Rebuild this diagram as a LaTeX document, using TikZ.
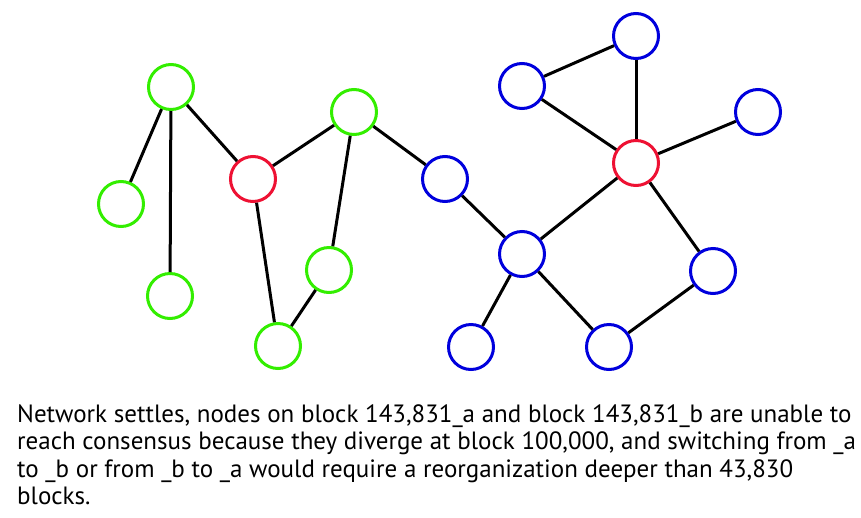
\documentclass[tikz,border=0pt]{standalone}
\usepackage{fontspec}
\setmainfont{PT Sans}
\usetikzlibrary{calc}

\definecolor{nodegreen}{RGB}{51,238,0}
\definecolor{nodered}{RGB}{238,17,51}
\definecolor{nodeblue}{RGB}{0,0,221}

\begin{document}
\begin{tikzpicture}[
    x=1pt, y=-1pt,
    roundnode/.style={circle, line width=3pt, minimum size=45pt, inner sep=0pt, fill=white},
    greennode/.style={roundnode, draw=nodegreen},
    rednode/.style={roundnode, draw=nodered},
    bluenode/.style={roundnode, draw=nodeblue},
]
    \useasboundingbox (0, 0) rectangle (861, 517);

    % green nodes (branch _a)
    \foreach \i/\x/\y in {1/171/87, 2/121/204, 3/170/296, 4/354/112, 5/329/270, 6/278/346}
    {
        \node at (\x, \y) [greennode](Gcircle_\i){};
    }

    % red nodes
    \foreach \i/\x/\y in {1/253/179, 2/636/163}
    {
        \node at (\x, \y) [rednode](Rcircle_\i){};
    }

    % blue nodes (branch _b)
    \foreach \i/\x/\y in {1/636/36, 2/522/86, 3/758/112, 4/445/179, 5/522/254, 6/713/271, 7/471/347, 8/609/347}
    {
        \node at (\x, \y) [bluenode](Bcircle_\i){};
    }

    % connect the nodes
    \foreach \start/\end in {
    Gcircle_1/Gcircle_2,
    Gcircle_1/Gcircle_3,
    Gcircle_1/Rcircle_1,
    Rcircle_1/Gcircle_4,
    Rcircle_1/Gcircle_6,
    Gcircle_4/Gcircle_5,
    Gcircle_5/Gcircle_6,
    Gcircle_4/Bcircle_4,
    Bcircle_4/Bcircle_5,
    Bcircle_5/Rcircle_2,
    Bcircle_5/Bcircle_7,
    Bcircle_5/Bcircle_8,
    Bcircle_8/Bcircle_6,
    Bcircle_6/Rcircle_2,
    Rcircle_2/Bcircle_1,
    Rcircle_2/Bcircle_2,
    Rcircle_2/Bcircle_3,
    Bcircle_2/Bcircle_1}
    {
        \draw [line width=3pt] (\start) -- (\end) ;
    }

    % caption
    \node [anchor=north west, inner sep=0pt, align=left,
        font=\fontsize{25}{27.5}\selectfont] (caption) at (17, 404)
    {Network settles, nodes on block 143,831\_a and block 143,831\_b are unable to\\
    reach consensus because they diverge at block 100,000, and switching from \_a\\
    to \_b or from \_b to \_a would require a reorganization deeper than 43,830\\
    blocks.};

\end{tikzpicture}
\end{document}
